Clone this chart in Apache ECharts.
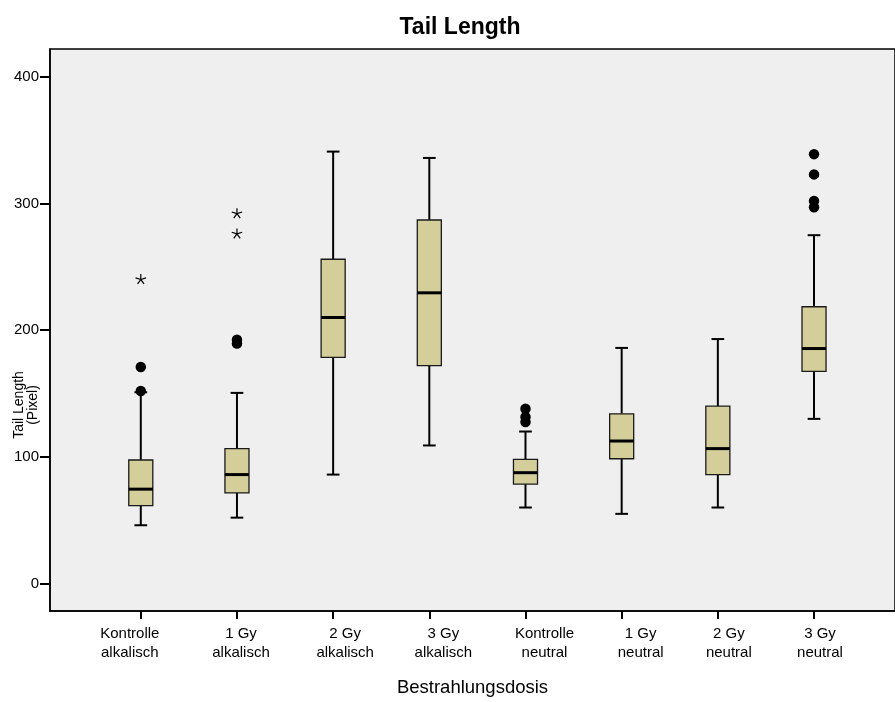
<!DOCTYPE html>
<html>
<head>
<meta charset="utf-8">
<script src="https://cdn.jsdelivr.net/npm/echarts@6/dist/echarts.min.js"></script>
<style>html,body{margin:0;padding:0;background:#fff}#c{width:895px;height:702px}</style>
</head>
<body>
<div id="c"></div>
<script>
// ---- data ----
const catLine1 = ['Kontrolle', '1 Gy', '2 Gy', '3 Gy', 'Kontrolle', '1 Gy', '2 Gy', '3 Gy'];
const catLine2 = ['alkalisch', 'alkalisch', 'alkalisch', 'alkalisch', 'neutral', 'neutral', 'neutral', 'neutral'];
const lowWhisker  = [46, 52, 86, 109, 60, 55, 60, 130];
const q1          = [61.5, 71.5, 178.5, 172, 78.5, 98.5, 86, 167.5];
const median      = [74.5, 86, 210, 229.5, 87.5, 112.5, 106.5, 185.5];
const q3          = [97.5, 106.5, 256, 287, 98, 134, 140, 218.5];
const highWhisker = [151, 150.5, 341, 336, 120, 186, 193, 275];
const outlierGroup = [0, 0, 1, 1, 4, 4, 4, 7, 7, 7, 7];
const outlierValue = [152, 171, 189.5, 192.5, 127.5, 131.5, 138, 297, 302, 323, 339];
const extremeGroup = [0, 1, 1];
const extremeValue = [240, 276, 292];
const yTicks = [0, 100, 200, 300, 400];
const labelShift = [-11, 4, 12, 14, 19, 19, 11, 6];

const FONT = '"Liberation Sans", Arial, sans-serif';
const boxData = catLine1.map((_, i) => [i, lowWhisker[i], q1[i], median[i], q3[i], highWhisker[i]]);
const outData = outlierGroup.map((g, i) => [g, outlierValue[i]]);
const extData = extremeGroup.map((g, i) => [g, extremeValue[i]]);

const rich = {};
labelShift.forEach((s, i) => {
  rich['o' + i] = {
    fontSize: 15, lineHeight: 19, color: '#000', fontFamily: FONT,
    padding: s > 0 ? [0, 0, 0, 2 * s] : [0, -2 * s, 0, 0]
  };
});

const chart = echarts.init(document.getElementById('c'), null, {renderer: 'canvas'});
chart.setOption({
  animation: false,
  backgroundColor: '#ffffff',
  title: {
    text: 'Tail Length', left: 455, top: 11, textAlign: 'center',
    textStyle: {fontFamily: FONT, fontWeight: 'bold', fontSize: 23, color: '#000'}
  },
  graphic: [{
    type: 'text', x: 26, y: 405, rotation: Math.PI / 2,
    style: {text: 'Tail Length\n(Pixel)', font: '14px ' + FONT, fill: '#000',
      align: 'center', verticalAlign: 'middle', lineHeight: 14}
  }],
  grid: {
    left: 50, right: -2, top: 49, bottom: 86.5,
    show: true, backgroundColor: '#efefef', borderColor: '#000', borderWidth: 1.5
  },
  xAxis: {
    type: 'value', min: -0.944, max: 7.842,
    name: 'Bestrahlungsdosis', nameLocation: 'middle', nameGap: 67,
    nameTextStyle: {fontFamily: FONT, fontSize: 18.5, color: '#000'},
    axisLine: {show: true, onZero: false, lineStyle: {color: '#000', width: 1.5}},
    axisTick: {show: true, customValues: [0, 1, 2, 3, 4, 5, 6, 7], length: 8, lineStyle: {color: '#000', width: 2}},
    axisLabel: {
      customValues: [0, 1, 2, 3, 4, 5, 6, 7], margin: 13,
      formatter: function (v) {
        const i = Math.round(v);
        return '{o' + i + '|' + catLine1[i] + '}\n{o' + i + '|' + catLine2[i] + '}';
      },
      rich: rich
    },
    splitLine: {show: false}
  },
  yAxis: {
    type: 'value', min: -21.7, max: 422,
    axisLine: {show: true, onZero: false, lineStyle: {color: '#000', width: 1.5}},
    axisTick: {show: true, customValues: yTicks, length: 10, lineStyle: {color: '#000', width: 2}},
    axisLabel: {customValues: yTicks, margin: 11, fontFamily: FONT, fontSize: 15, color: '#000'},
    splitLine: {show: false}
  },
  series: [
    {
      type: 'custom',
      data: boxData,
      encode: {x: 0, y: [1, 2, 3, 4, 5]},
      renderItem: function (params, api) {
        const x = api.value(0);
        const pLow = api.coord([x, api.value(1)]);
        const pQ1 = api.coord([x, api.value(2)]);
        const pMed = api.coord([x, api.value(3)]);
        const pQ3 = api.coord([x, api.value(4)]);
        const pHigh = api.coord([x, api.value(5)]);
        const band = api.size([1, 0])[0];
        const bw = band * 0.125;
        const cw = band * 0.066;
        const cx = pMed[0];
        const ls = {stroke: '#000', lineWidth: 2};
        return {
          type: 'group',
          children: [
            {type: 'line', shape: {x1: cx, y1: pHigh[1], x2: cx, y2: pQ3[1]}, style: ls},
            {type: 'line', shape: {x1: cx, y1: pQ1[1], x2: cx, y2: pLow[1]}, style: ls},
            {type: 'line', shape: {x1: cx - cw, y1: pHigh[1], x2: cx + cw, y2: pHigh[1]}, style: ls},
            {type: 'line', shape: {x1: cx - cw, y1: pLow[1], x2: cx + cw, y2: pLow[1]}, style: ls},
            {type: 'rect', shape: {x: cx - bw, y: pQ3[1], width: 2 * bw, height: pQ1[1] - pQ3[1]},
              style: {fill: '#d4cf9a', stroke: '#1a1a1a', lineWidth: 1.3}},
            {type: 'line', shape: {x1: cx - bw, y1: pMed[1], x2: cx + bw, y2: pMed[1]},
              style: {stroke: '#000', lineWidth: 3}}
          ]
        };
      },
      z: 2
    },
    {
      type: 'scatter', data: outData, symbol: 'circle', symbolSize: 10.5,
      itemStyle: {color: '#000', opacity: 1}, z: 3
    },
    {
      type: 'custom', data: extData, encode: {x: 0, y: 1},
      renderItem: function (params, api) {
        const p = api.coord([api.value(0), api.value(1)]);
        const r = 5.5;
        const children = [];
        for (let k = 0; k < 5; k++) {
          const a = -Math.PI / 2 + k * 2 * Math.PI / 5;
          children.push({type: 'line', shape: {x1: p[0], y1: p[1], x2: p[0] + r * Math.cos(a), y2: p[1] + r * Math.sin(a)},
            style: {stroke: '#000', lineWidth: 1.2}});
        }
        return {type: 'group', children: children};
      },
      z: 3
    }
  ]
});
</script>
</body>
</html>
